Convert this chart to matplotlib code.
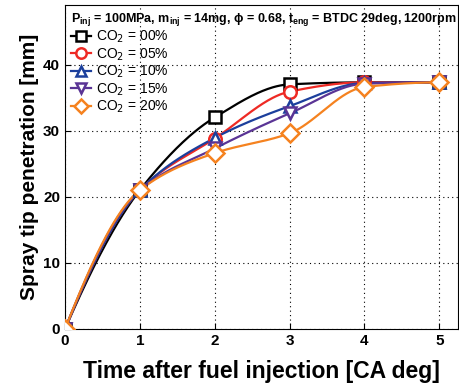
import matplotlib
matplotlib.use("Agg")
import matplotlib.pyplot as plt
import numpy as np

plt.rcParams["font.family"] = ["Liberation Sans", "DejaVu Sans"]

# crank angle after injection [CA deg]
time_ca = [0, 1, 2, 3, 4, 5]

# spray tip penetration [mm] for each CO2 dilution level
pen_co2_00 = [0.0, 21.0, 32.0, 37.0, 37.3, 37.3]
pen_co2_05 = [0.0, 21.0, 28.8, 35.9, 37.3, 37.3]
pen_co2_10 = [0.0, 21.0, 28.9, 33.7, 37.2, 37.3]
pen_co2_15 = [0.0, 21.0, 27.3, 32.6, 37.1, 37.3]
pen_co2_20 = [0.0, 21.0, 26.6, 29.6, 36.6, 37.3]

labels = ["CO$_2$ = 00%", "CO$_2$ = 05%", "CO$_2$ = 10%", "CO$_2$ = 15%", "CO$_2$ = 20%"]
colors = ["#000000", "#ee2a24", "#1c3f9c", "#5a3495", "#f5821f"]
markers = ["s", "o", "^", "v", "D"]
series = [pen_co2_00, pen_co2_05, pen_co2_10, pen_co2_15, pen_co2_20]


def pchip(x, y, xq):
    """Shape-preserving piecewise cubic through (x, y)."""
    x = np.asarray(x, float)
    y = np.asarray(y, float)
    h = np.diff(x)
    d = np.diff(y) / h
    n = len(x)
    m = np.zeros(n)
    for k in range(1, n - 1):
        if d[k - 1] * d[k] > 0:
            w1 = 2 * h[k] + h[k - 1]
            w2 = h[k] + 2 * h[k - 1]
            m[k] = (w1 + w2) / (w1 / d[k - 1] + w2 / d[k])
    m[0] = ((2 * h[0] + h[1]) * d[0] - h[0] * d[1]) / (h[0] + h[1])
    if np.sign(m[0]) != np.sign(d[0]):
        m[0] = 0
    m[-1] = ((2 * h[-1] + h[-2]) * d[-1] - h[-1] * d[-2]) / (h[-1] + h[-2])
    if np.sign(m[-1]) != np.sign(d[-1]):
        m[-1] = 0
    idx = np.clip(np.searchsorted(x, xq) - 1, 0, n - 2)
    t = (xq - x[idx]) / h[idx]
    h00 = 2 * t**3 - 3 * t**2 + 1
    h10 = t**3 - 2 * t**2 + t
    h01 = -2 * t**3 + 3 * t**2
    h11 = t**3 - t**2
    return (h00 * y[idx] + h10 * h[idx] * m[idx]
            + h01 * y[idx + 1] + h11 * h[idx] * m[idx + 1])


fig = plt.figure(figsize=(4.59, 3.92), dpi=100)
ax = fig.add_axes([65 / 459, 63 / 392, 393 / 459, 324 / 392])

xs = np.linspace(0, 5, 300)
for y, c, m, lab in zip(series, colors, markers, labels):
    ax.plot(xs, pchip(time_ca, y, xs), color=c, lw=1.6, zorder=2)
    ax.plot(time_ca, y, linestyle="none", marker=m, ms=9, mfc="white",
            mec=c, mew=1.8, zorder=3)
    ax.plot([], [], color=c, lw=1.6, marker=m, ms=7.5, mfc="white",
            mec=c, mew=1.8, label=lab)

ax.set_xlim(0, 5.25)
ax.set_ylim(0, 49)
ax.set_xticks([0, 1, 2, 3, 4, 5])
ax.set_yticks([0, 10, 20, 30, 40])
ax.tick_params(direction="in", labelsize=11, length=4)
for t in ax.get_xticklabels() + ax.get_yticklabels():
    t.set_fontweight("bold")
ax.grid(True, color="black", linestyle=(0, (1, 3)), lw=0.8)

ax.set_xlabel("Time after fuel injection [CA deg]", fontsize=16.5,
              fontweight="bold", labelpad=9)
ax.set_ylabel("Spray tip penetration [mm]", fontsize=15, fontweight="bold",
              labelpad=3)

leg = ax.legend(loc="upper left", frameon=False, fontsize=10,
                handlelength=1.5, handletextpad=0.3, labelspacing=0.08,
                borderaxespad=0.1, borderpad=0.3,
                title=r"P$_{\mathregular{inj}}$ = 100MPa, m$_{\mathregular{inj}}$ = 14mg, "
                      r"$\mathregular{\phi}$ = 0.68, t$_{\mathregular{eng}}$ = BTDC 29deg, 1200rpm")
leg.get_title().set_fontweight("bold")
leg.get_title().set_fontsize(9)
leg._legend_box.align = "left"

fig.savefig("out.png", dpi=100)
